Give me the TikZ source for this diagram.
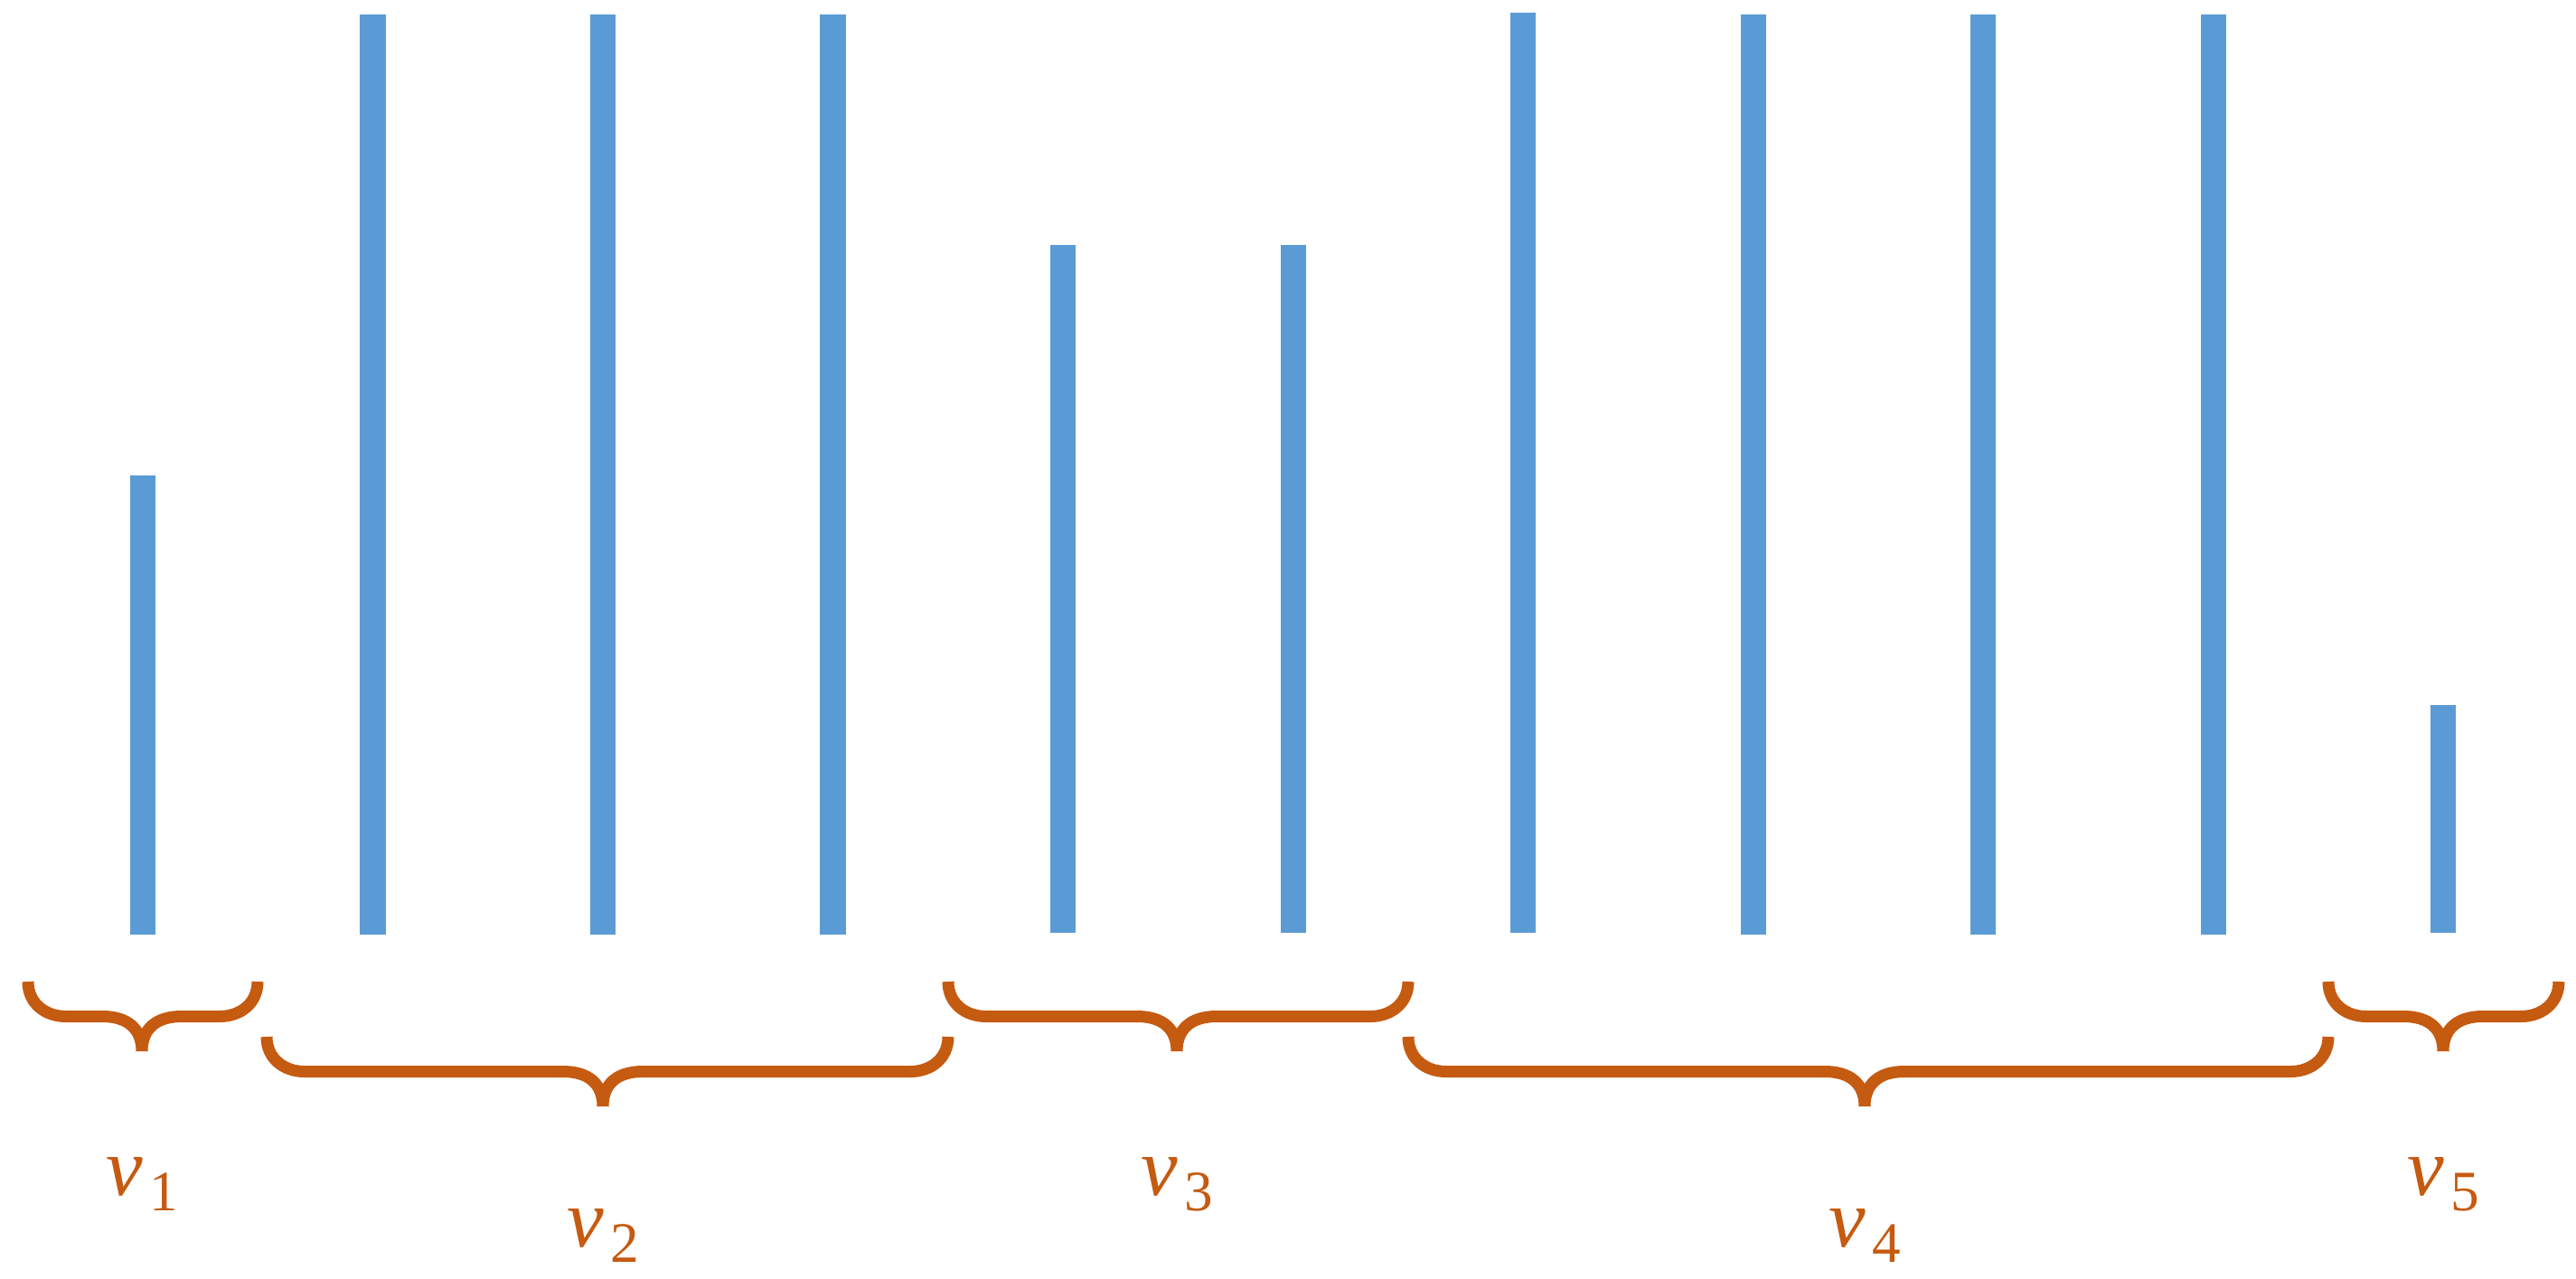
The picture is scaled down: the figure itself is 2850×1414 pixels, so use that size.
\documentclass[tikz,border=0pt]{standalone}
\usepackage{fontspec}
\usepackage{xcolor}
\newfontfamily\lblfont{Liberation Serif}
\definecolor{barblue}{HTML}{5B9BD5}
\definecolor{braceor}{HTML}{C55A11}
\newcommand\drawbrace[4]{% left x, right x, tip x, top y
  \draw[brc] (#1,#4) .. controls (#1,#4+24) and (#1+19,#4+38.5) .. (#1+42,#4+38.5)
     -- (#3-44,#4+38.5) .. controls (#3-16,#4+38.5) and (#3,#4+52) .. (#3,#4+77)
     (#2,#4) .. controls (#2,#4+24) and (#2-19,#4+38.5) .. (#2-42,#4+38.5)
     -- (#3+44,#4+38.5) .. controls (#3+16,#4+38.5) and (#3,#4+52) .. (#3,#4+77);}
\newcommand\vlabel[1]{{\lblfont\fontsize{26}{30}\selectfont\itshape v}\kern2.2pt\raisebox{-5.1pt}{\lblfont\fontsize{18}{20}\selectfont #1}}
\begin{document}
\begin{tikzpicture}[x=0.01cm,y=-0.01cm,
  bar/.style={fill=barblue, draw=none, inner sep=0pt, outer sep=0pt, minimum width=0.28cm, anchor=south},
  brc/.style={draw=braceor, line width=3.7pt, line cap=butt, line join=round},
  lbl/.style={text=braceor, anchor=base, inner sep=0pt}]
\useasboundingbox (0,0) rectangle (2850,1414);
% bars
\node[bar, minimum height=5.08cm]  (b1)  at (158,1034) {};
\node[bar, minimum height=10.17cm] (b2)  at (412.5,1034) {};
\node[bar, minimum height=10.17cm] (b3)  at (667,1034) {};
\node[bar, minimum height=10.17cm] (b4)  at (921.5,1034) {};
\node[bar, minimum height=7.61cm]  (b5)  at (1176,1032) {};
\node[bar, minimum height=7.61cm]  (b6)  at (1430.5,1032) {};
\node[bar, minimum height=10.17cm] (b7)  at (1685,1032) {};
\node[bar, minimum height=10.17cm] (b8)  at (1939.5,1034) {};
\node[bar, minimum height=10.17cm] (b9)  at (2194,1034) {};
\node[bar, minimum height=10.17cm] (b10) at (2448.5,1034) {};
\node[bar, minimum height=2.52cm]  (b11) at (2703,1032) {};
% braces
\drawbrace{31}{285}{157}{1086}
\drawbrace{295}{1049}{667}{1147}
\drawbrace{1049}{1558}{1302}{1086}
\drawbrace{1558}{2576}{2063}{1147}
\drawbrace{2576}{2831}{2703}{1086}
% labels
\node[lbl] (v1) at (157,1322) {\vlabel{1}};
\node[lbl] (v2) at (667,1379) {\vlabel{2}};
\node[lbl] (v3) at (1302,1322) {\vlabel{3}};
\node[lbl] (v4) at (2063,1379) {\vlabel{4}};
\node[lbl] (v5) at (2703,1322) {\vlabel{5}};
\end{tikzpicture}
\end{document}
